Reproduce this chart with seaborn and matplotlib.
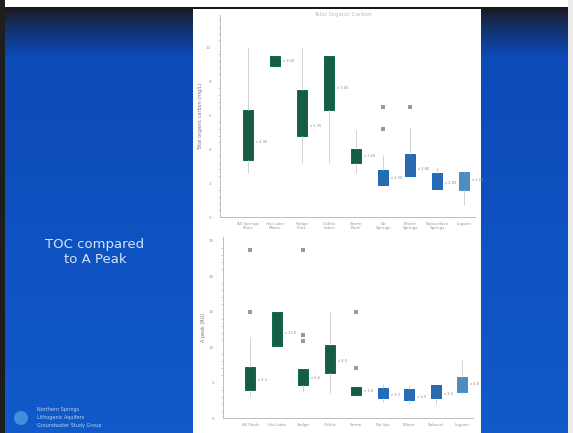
import numpy as np
import pandas as pd
import matplotlib
matplotlib.use("Agg")
import matplotlib.pyplot as plt
from matplotlib.patches import Rectangle, Circle
from matplotlib.ticker import MultipleLocator
import seaborn as sns

sns.set_style("white")
plt.rcParams['font.family'] = ['DejaVu Sans']

# categories (same sites in both panels)
sites = ["All Springs\nPools", "Hot Lake\nMines", "Sedge\nFlats", "Oolitic\nLakes",
         "Storm\nRock", "No\nSprings", "Filbert\nSprings", "Subsurface\nSprings", "Lagoon"]
short_sites = ["All Pools", "Hot Lake", "Sedge", "Oolitic", "Storm",
               "No Spr.", "Filbert", "Subsurf.", "Lagoon"]
site_colors = ["#0b684a"] * 5 + ["#1668c6"] * 3 + ["#3e8ed0"]

# top panel: TOC (mg/L), five-number summaries lo, q1, med, q3, hi
toc_lo  = [2.6, 8.9, 3.2, 3.2, 2.6, 1.9, 2.4, 1.65, 0.7]
toc_q1  = [3.35, 8.9, 4.75, 6.3, 3.2, 1.9, 2.4, 1.65, 1.6]
toc_med = [4.4, 9.2, 5.35, 7.6, 3.6, 2.3, 2.8, 2.0, 2.2]
toc_q3  = [6.3, 9.5, 7.5, 9.5, 4.0, 2.75, 3.7, 2.6, 2.65]
toc_hi  = [10.0, 9.5, 10.0, 9.5, 5.1, 3.65, 5.3, 2.95, 2.7]
toc_out_site = ["No\nSprings", "No\nSprings", "Filbert\nSprings"]
toc_out_val = [6.5, 5.2, 6.5]

# bottom panel: A peak
ap_lo  = [2.9, 10.1, 3.75, 3.5, 3.3, 2.2, 2.0, 2.0, 3.4]
ap_q1  = [4.0, 10.1, 4.7, 6.4, 3.3, 2.8, 2.6, 2.8, 3.6]
ap_med = [5.3, 12.0, 5.6, 8.0, 3.8, 3.3, 3.0, 3.4, 4.8]
ap_q3  = [7.2, 15.0, 6.9, 10.3, 4.4, 4.2, 4.1, 4.6, 5.8]
ap_hi  = [11.4, 15.0, 6.9, 14.9, 4.4, 4.8, 4.6, 4.6, 8.2]
ap_out_site = ["All Springs\nPools", "All Springs\nPools", "Sedge\nFlats", "Sedge\nFlats",
               "Sedge\nFlats", "Storm\nRock", "Storm\nRock"]
ap_out_val = [23.7, 14.9, 23.7, 11.7, 10.8, 14.9, 7.1]

W, H = 573, 433
fig = plt.figure(figsize=(W / 100, H / 100), dpi=100)

# slide background
bg = fig.add_axes([0, 0, 1, 1])
yy = np.arange(H)[:, None]
t = np.clip((yy - 12) / 45.0, 0, 1) ** 0.8
top_c = np.array([26, 30, 44]) / 255
mid_c = np.array([12, 74, 184]) / 255
bot_c = np.array([18, 90, 202]) / 255
grad = top_c * (1 - t) + mid_c * t
grad = grad + (bot_c - mid_c) * np.clip((yy - 60) / 370.0, 0, 1)
img = np.repeat(grad[:, None, :], W, axis=1).reshape(H, W, 3)
img[:7] = 1.0
img[7:10] = 0.1
img[:, :5] = 0.12
img[:, 568:] = 0.93
bg.imshow(img, extent=(0, W, H, 0), aspect="auto")
bg.add_patch(Rectangle((193, 9), 288, 424, color="white", lw=0))
bg.set_xlim(0, W)
bg.set_ylim(H, 0)
bg.axis("off")
bg.text(95, 252, "TOC compared\nto A Peak", color="#d5e4f5", fontsize=9.5,
        ha="center", va="center", linespacing=1.2)
bg.add_patch(Circle((21, 418), 7, color="#3f8fdc", lw=0))
bg.text(37, 410, "Northern Springs", color="#b9d2ef", fontsize=3.5, va="center")
bg.text(37, 418, "Lithogenic Aquifers", color="#b9d2ef", fontsize=3.5, va="center")
bg.text(37, 426, "Groundwater Study Group", color="#b9d2ef", fontsize=3.5, va="center")
bg.text(343, 16, "Total Organic Carbon", color="#bbbbbb", fontsize=4, ha="center")


def panel(ax, lo, q1, med, q3, hi, out_site, out_val, ylim, major, ylabel, fmt, ticklabels):
    df = pd.DataFrame({
        "site": np.repeat(sites, 5),
        "value": np.column_stack([lo, q1, med, q3, hi]).ravel(),
    })
    sns.boxplot(data=df, x="site", y="value", hue="site", order=sites, hue_order=sites,
                palette=site_colors, width=0.37, whis=(0, 100), showfliers=False,
                linecolor="#d2d2d2", linewidth=0.7, legend=False, ax=ax,
                medianprops=dict(alpha=0), capprops=dict(alpha=0))
    for p, c in zip(ax.patches, site_colors):
        p.set_edgecolor(c)
    sns.stripplot(x=out_site, y=out_val, order=sites, jitter=False, color="#9a9a9a",
                  marker="s", size=2.5, ax=ax)
    for i, m in enumerate(med):
        ax.text(i + 0.3, m, "x " + fmt.format(m), fontsize=2.6, color="#8c8c8c",
                va="center")
    ax.set_xlim(-1.03, 8.4)
    ax.set_ylim(*ylim)
    ax.yaxis.set_major_locator(MultipleLocator(major))
    ax.yaxis.set_minor_locator(MultipleLocator(major / 5))
    ax.tick_params(axis="y", which="major", length=3, labelsize=3, colors="#999999", width=0.6)
    ax.tick_params(axis="y", which="minor", length=1.5, colors="#bbbbbb", width=0.5, left=True)
    ax.tick_params(axis="x", length=2, labelsize=3, colors="#999999", width=0.5, pad=1.5)
    ax.set_xticks(range(len(sites)), ticklabels)
    ax.set_xlabel("")
    ax.set_ylabel(ylabel, fontsize=3.5, color="#777777", labelpad=2)
    for s in ["top", "right"]:
        ax.spines[s].set_visible(False)
    for s in ["left", "bottom"]:
        ax.spines[s].set_color("#bdbdbd")
        ax.spines[s].set_linewidth(0.7)
        ax.spines[s].set_linestyle((0, (4, 1)))
    ax.set_facecolor("none")


ax1 = fig.add_axes([220 / W, 1 - 217 / H, 255 / W, 202 / H])
panel(ax1, toc_lo, toc_q1, toc_med, toc_q3, toc_hi, toc_out_site, toc_out_val,
      (0, 11.9), 2, "Total organic carbon (mg/L)", "{:.2f}", sites)

ax2 = fig.add_axes([223 / W, 1 - 418 / H, 250 / W, 181 / H])
panel(ax2, ap_lo, ap_q1, ap_med, ap_q3, ap_hi, ap_out_site, ap_out_val,
      (0, 25.5), 5, "A peak (RU)", "{:.1f}", short_sites)

fig.savefig("out.png", dpi=100)
